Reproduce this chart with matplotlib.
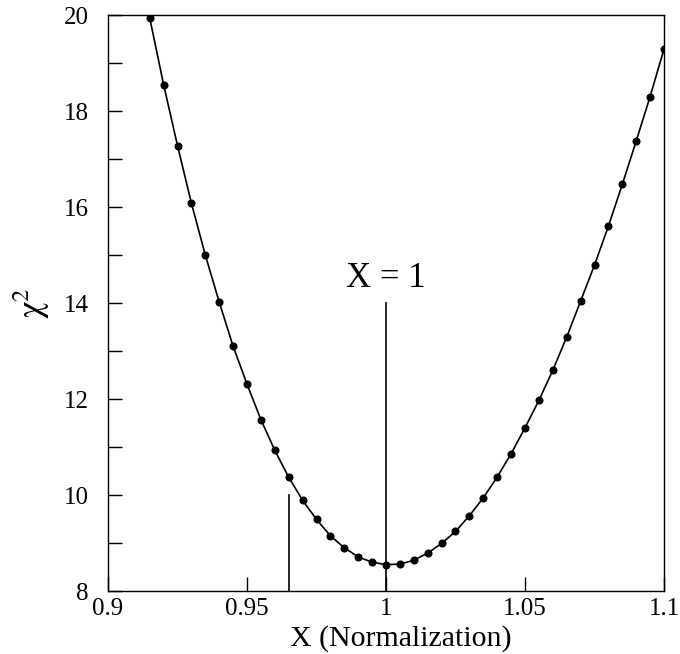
import numpy as np
import matplotlib
matplotlib.use("Agg")
import matplotlib.pyplot as plt

x_norm = [0.915, 0.920, 0.925, 0.930, 0.935, 0.940, 0.945, 0.950, 0.955, 0.960,
          0.965, 0.970, 0.975, 0.980, 0.985, 0.990, 0.995, 1.000, 1.005, 1.010,
          1.015, 1.020, 1.025, 1.030, 1.035, 1.040, 1.045, 1.050, 1.055, 1.060,
          1.065, 1.070, 1.075, 1.080, 1.085, 1.090, 1.095, 1.100]
chi2 = [19.94, 18.55, 17.28, 16.08, 15.00, 14.02, 13.10, 12.31, 11.57, 10.93,
        10.37, 9.89, 9.49, 9.15, 8.90, 8.71, 8.60, 8.55, 8.56, 8.64,
        8.79, 8.99, 9.24, 9.57, 9.94, 10.375, 10.86, 11.40, 11.97, 12.60,
        13.29, 14.04, 14.79, 15.60, 16.47, 17.375, 18.30, 19.29]

marker_lines_x = [0.965, 1.0]
marker_lines_top = [10.0, 14.0]
annotation_text = "X = 1"
xticks = [0.9, 0.95, 1.0, 1.05, 1.1]
xtick_labels = ["0.9", "0.95", "1", "1.05", "1.1"]
yticks = [8, 10, 12, 14, 16, 18, 20]

plt.rcParams['font.family'] = ['Liberation Serif', 'DejaVu Serif']

fig = plt.figure(figsize=(6.8, 6.54), dpi=100)
ax = fig.add_axes([108/680, 1 - 591/654, (664-108)/680, (591-15)/654])

ax.plot(x_norm, chi2, color='black', lw=1.2, marker='o', ms=4.8,
        markerfacecolor='black', markeredgecolor='black')
for xv, top in zip(marker_lines_x, marker_lines_top):
    ax.plot([xv, xv], [8, top], color='black', lw=1.2)
ax.text(1.0, 14.52, annotation_text, ha='center', va='center', fontsize=25)

ax.set_xlim(0.9, 1.1)
ax.set_ylim(8, 20)
ax.set_xticks(xticks)
ax.set_xticklabels(xtick_labels)
ax.set_yticks(yticks)
ax.set_yticks(np.arange(9, 20, 2), minor=True)
ax.tick_params(axis='both', which='both', direction='in', length=10, width=1,
               top=False, right=False, labelsize=18)
ax.tick_params(axis='y', which='both', pad=14)
ax.tick_params(axis='x', which='both', pad=5)
for s in ax.spines.values():
    s.set_linewidth(1.0)
    s.set_color('black')

ax.set_xlabel("X (Normalization)", fontsize=21.5, labelpad=4)
ax.xaxis.label.set_x(0.527)
ax.set_ylabel(r"$\mathrm{\chi}^{2}$", fontsize=25, labelpad=8, math_fontfamily='stix')

fig.savefig("out.png", dpi=100)
